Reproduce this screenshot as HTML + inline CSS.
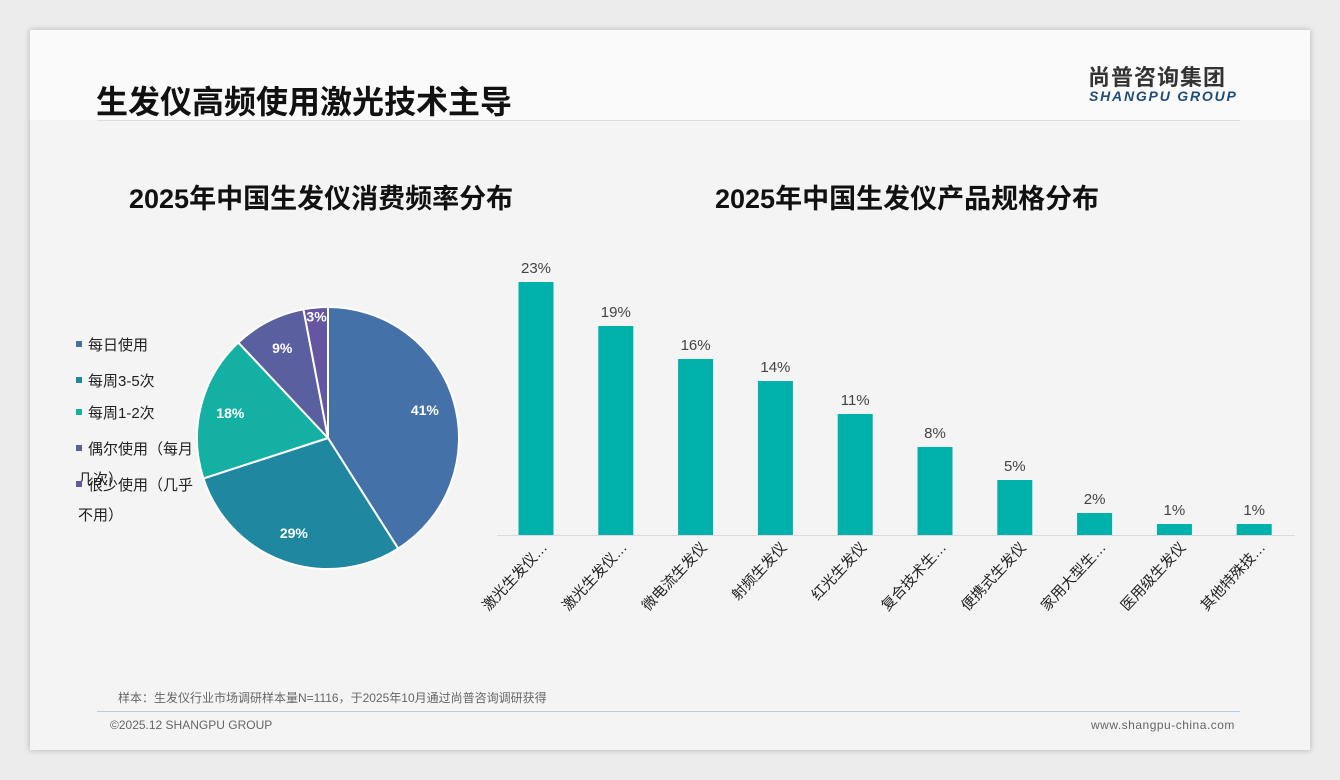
<!DOCTYPE html>
<html><head><meta charset="utf-8"><style>
body{margin:0;width:1340px;height:780px;background:#ececec;font-family:"Liberation Sans","Noto Sans CJK SC",sans-serif;position:relative;overflow:hidden}
.card{position:absolute;left:30px;top:30px;width:1280px;height:720px;background:#f4f4f4;box-shadow:0 0 6px rgba(0,0,0,.25)}
.hdr{position:absolute;left:0;top:0;width:1280px;height:90px;background:#fafafa}
.t{position:absolute;white-space:nowrap}
</style></head><body>
<div class="card">
<div class="hdr"></div>
<div class="t" style="left:66px;top:47px;font-size:32px;font-weight:bold;color:#111">生发仪高频使用激光技术主导</div>
<div style="position:absolute;left:67px;top:90px;width:1143px;height:1px;background:#dcdcdc"></div>
<div class="t" style="left:1058px;top:30px;font-size:22px;font-weight:bold;color:#333;letter-spacing:1px">尚普咨询集团</div>
<div class="t" style="left:1059px;top:58px;font-size:14px;font-weight:bold;font-style:italic;color:#1d4e7a;letter-spacing:1.8px">SHANGPU GROUP</div>
<div class="t" style="left:99px;top:147px;font-size:27px;font-weight:bold;color:#111">2025年中国生发仪消费频率分布</div>
<div class="t" style="left:685px;top:147px;font-size:27px;font-weight:bold;color:#111">2025年中国生发仪产品规格分布</div>
<div style="position:absolute;left:67px;top:681px;width:1143px;height:1px;background:#b8cde0"></div>
<div class="t" style="left:88px;top:659px;font-size:12px;color:#666">样本：生发仪行业市场调研样本量N=1116，于2025年10月通过尚普咨询调研获得</div>
<div class="t" style="left:80px;top:688px;font-size:12px;color:#666">©2025.12 SHANGPU GROUP</div>
<div class="t" style="left:1061px;top:688px;font-size:12px;color:#666;letter-spacing:0.5px">www.shangpu-china.com</div>
</div>
<svg id="s" width="1340" height="780" style="position:absolute;left:0;top:0"></svg>
<script>
const pieLabels=['每日使用','每周3-5次','每周1-2次','偶尔使用（每月几次）','很少使用（几乎不用）'];
const pieValues=[41,29,18,9,3];
const barCats=['激光生发仪…','激光生发仪…','微电流生发仪','射频生发仪','红光生发仪','复合技术生…','便携式生发仪','家用大型生…','医用级生发仪','其他特殊技…'];
const barValues=[23,19,16,14,11,8,5,2,1,1];
const pieColors=['#4472a8','#1f88a0','#14b0a4','#5a5fa0','#6655a0'];
const NS='http://www.w3.org/2000/svg';const s=document.getElementById('s');
function mk(t,a,txt){const e=document.createElementNS(NS,t);for(const k in a)e.setAttribute(k,a[k]);if(txt!=null)e.textContent=txt;s.appendChild(e);return e;}
const cx=328,cy=438,r=131;const tot=pieValues.reduce((a,b)=>a+b,0);let a0=0;
pieValues.forEach((v,i)=>{const a1=a0+v/tot*2*Math.PI;
 const p=(a)=>[cx+r*Math.sin(a),cy-r*Math.cos(a)];const [x0,y0]=p(a0),[x1,y1]=p(a1);
 const e=mk('path',{d:`M${cx},${cy}L${x0},${y0}A${r},${r} 0 ${a1-a0>Math.PI?1:0} 1 ${x1},${y1}Z`,fill:pieColors[i],stroke:'#fff','stroke-width':2});
 
 
 const m=(a0+a1)/2,lr=v<5?0.93*r:0.77*r;
 const t=mk('text',{x:cx+lr*Math.sin(m),y:cy-lr*Math.cos(m)+5,'text-anchor':'middle','font-size':14,'font-weight':'bold',fill:'#fff'},v+'%');
 
 
 a0=a1;});
const legY=[345,381,413,449,485];
const legLines=[['每日使用'],['每周3-5次'],['每周1-2次'],['偶尔使用（每月','几次）'],['很少使用（几乎','不用）']];
legLines.forEach((ls,i)=>{const y=legY[i];
 const sq=mk('rect',{x:76,y:y-4,width:6,height:6,fill:pieColors[i]});
 
 
 ls.forEach((l,j)=>{const t=mk('text',{x:j?78:88,y:y+5+j*30,'font-size':15,fill:'#222'},l);
 
 });});
const base=535,pxPer=11,x0b=536,step=79.8,bw=35;
const ax=mk('line',{x1:497,y1:base+0.5,x2:1295,y2:base+0.5,stroke:'#d9d9d9'});


barCats.forEach((c,i)=>{const x=x0b+i*step,h=barValues[i]*pxPer;
 const b=mk('rect',{x:x-bw/2,y:base-h,width:bw,height:h,fill:'#00b0aa'});
 
 
 const v=mk('text',{x:x,y:base-h-9,'text-anchor':'middle','font-size':15,fill:'#444'},barValues[i]+'%');
 
 
 const t=mk('text',{x:x+12,y:base+13,'text-anchor':'end','font-size':14.5,fill:'#222',transform:`rotate(-47 ${x+12} ${base+13})`},c);
 
 });
</script>
</body></html>
